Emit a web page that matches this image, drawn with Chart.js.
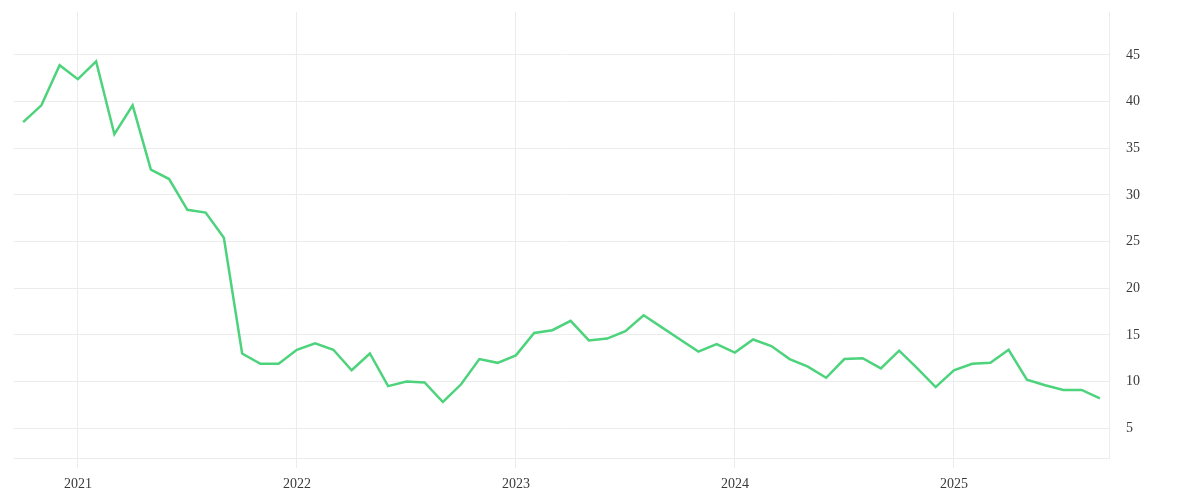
<!DOCTYPE html>
<html>
<head>
<meta charset="utf-8">
<script src="https://cdn.jsdelivr.net/npm/chart.js@4"></script>
<style>
    html, body { margin: 0; padding: 0; background: #fff; }
    #wrap { width: 1200px; height: 500px; }
</style>
</head>
<body>
<div id="wrap"><canvas id="trendChart"></canvas></div>
<script>
// monthly points, Oct 2020 - Sep 2025
const months = [
    '2020-10', '2020-11', '2020-12',
    '2021-01', '2021-02', '2021-03', '2021-04', '2021-05', '2021-06',
    '2021-07', '2021-08', '2021-09', '2021-10', '2021-11', '2021-12',
    '2022-01', '2022-02', '2022-03', '2022-04', '2022-05', '2022-06',
    '2022-07', '2022-08', '2022-09', '2022-10', '2022-11', '2022-12',
    '2023-01', '2023-02', '2023-03', '2023-04', '2023-05', '2023-06',
    '2023-07', '2023-08', '2023-09', '2023-10', '2023-11', '2023-12',
    '2024-01', '2024-02', '2024-03', '2024-04', '2024-05', '2024-06',
    '2024-07', '2024-08', '2024-09', '2024-10', '2024-11', '2024-12',
    '2025-01', '2025-02', '2025-03', '2025-04', '2025-05', '2025-06',
    '2025-07', '2025-08', '2025-09'
];

const values = [
    37.8, 39.6, 43.9,
    42.4, 44.3, 36.5, 39.6, 32.7, 31.7,
    28.4, 28.1, 25.4, 13.0, 11.9, 11.9,
    13.4, 14.1, 13.4, 11.2, 13.0, 9.5,
    10.0, 9.9, 7.8, 9.7, 12.4, 12.0,
    12.8, 15.2, 15.5, 16.5, 14.4, 14.6,
    15.4, 17.1, 15.8, 14.5, 13.2, 14.0,
    13.1, 14.5, 13.8, 12.4, 11.6, 10.4,
    12.4, 12.5, 11.4, 13.3, 11.4, 9.4,
    11.2, 11.9, 12.0, 13.4, 10.2, 9.6,
    9.1, 9.1, 8.2
];

const yTicks = [5, 10, 15, 20, 25, 30, 35, 40, 45];

const gridColor = '#ececec';
const labelFont = { family: '"Liberation Serif", serif', size: 14 };

function isJanuary(i) {
    return months[i] !== undefined && months[i].endsWith('-01');
}

new Chart(document.getElementById('trendChart'), {
    type: 'line',
    data: {
        labels: months,
        datasets: [{
            data: values,
            borderColor: '#4cd37c',
            borderWidth: 2.5,
            pointRadius: 0,
            tension: 0,
            fill: false
        }]
    },
    options: {
        responsive: true,
        maintainAspectRatio: false,
        animation: false,
        layout: { padding: { left: 14, top: 12, right: 0, bottom: 0 } },
        plugins: {
            legend: { display: false },
            tooltip: { enabled: false }
        },
        scales: {
            x: {
                offset: true,
                afterFit: scale => {
                    scale.height = 42;
                    scale.paddingLeft = 0;
                    scale.paddingRight = 0;
                },
                grid: {
                    color: ctx => isJanuary(ctx.index) ? gridColor : 'rgba(0,0,0,0)',
                    tickLength: 10
                },
                border: { display: true, color: gridColor },
                ticks: {
                    autoSkip: false,
                    maxRotation: 0,
                    padding: 8,
                    color: '#3a3a3a',
                    font: labelFont,
                    callback: (val, i) => isJanuary(i) ? months[i].slice(0, 4) : ''
                }
            },
            y: {
                position: 'right',
                min: 1.8,
                max: 49.6,
                afterBuildTicks: scale => { scale.ticks = yTicks.map(v => ({ value: v })); },
                afterFit: scale => {
                    scale.width = 91;
                    scale.paddingTop = 0;
                    scale.paddingBottom = 0;
                },
                grid: { color: gridColor, drawTicks: false },
                border: { display: true, color: gridColor },
                ticks: {
                    padding: 17,
                    color: '#3a3a3a',
                    font: labelFont
                }
            }
        }
    }
});
</script>
</body>
</html>
